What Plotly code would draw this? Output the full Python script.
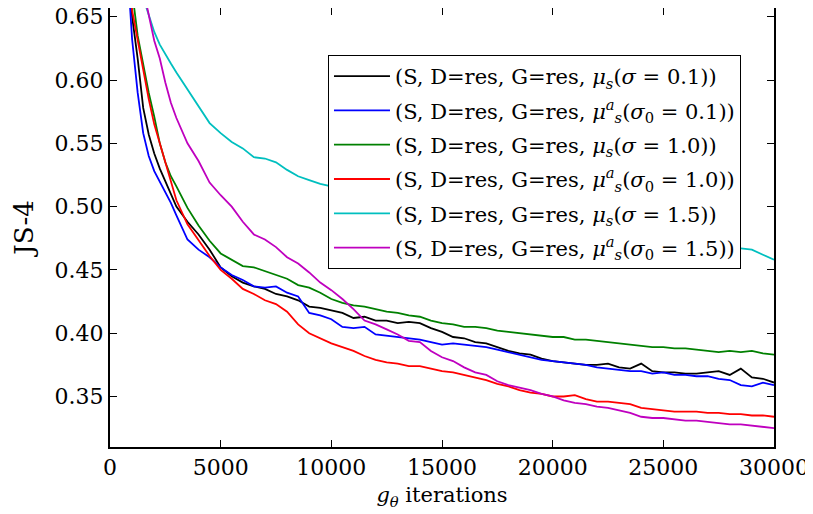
import plotly.graph_objects as go

ITERS = [500, 750, 1000, 1250, 1500, 1750, 2000, 2250, 2500, 2750, 3000] + list(range(3500, 30001, 500))

black = [0.80, 0.72, 0.65, 0.617, 0.578, 0.557, 0.542, 0.530, 0.520, 0.509, 0.500,
         0.488, 0.478, 0.466, 0.452, 0.445, 0.440, 0.437, 0.435, 0.431, 0.429,
         0.426, 0.421, 0.420, 0.418, 0.416, 0.412, 0.413, 0.410, 0.410, 0.408,
         0.409, 0.408, 0.404, 0.401, 0.397, 0.396, 0.393, 0.392, 0.389, 0.386,
         0.384, 0.383, 0.380, 0.378, 0.377, 0.376, 0.375, 0.375, 0.376, 0.373,
         0.372, 0.376, 0.370, 0.369, 0.369, 0.368, 0.368, 0.369, 0.370, 0.367,
         0.372, 0.365, 0.364, 0.361]
blue = [0.78, 0.70, 0.632, 0.590, 0.558, 0.540, 0.528, 0.520, 0.512, 0.503, 0.493,
        0.474, 0.466, 0.460, 0.452, 0.446, 0.442, 0.437, 0.436, 0.437, 0.432,
        0.429, 0.416, 0.414, 0.411, 0.405, 0.404, 0.405, 0.399, 0.398, 0.397,
        0.396, 0.395, 0.393, 0.391, 0.392, 0.391, 0.390, 0.389, 0.387, 0.385,
        0.383, 0.381, 0.379, 0.378, 0.377, 0.376, 0.375, 0.373, 0.372, 0.371,
        0.370, 0.370, 0.368, 0.369, 0.367, 0.367, 0.366, 0.366, 0.364, 0.363,
        0.359, 0.358, 0.361, 0.359]
green = [0.82, 0.74, 0.67, 0.635, 0.611, 0.590, 0.571, 0.550, 0.535, 0.524, 0.516,
         0.499, 0.485, 0.473, 0.463, 0.458, 0.453, 0.452, 0.449, 0.446, 0.443,
         0.438, 0.436, 0.432, 0.427, 0.424, 0.422, 0.421, 0.419, 0.417, 0.416,
         0.414, 0.413, 0.410, 0.408, 0.407, 0.405, 0.405, 0.404, 0.402, 0.401,
         0.400, 0.399, 0.398, 0.397, 0.397, 0.395, 0.395, 0.394, 0.393, 0.392,
         0.391, 0.390, 0.389, 0.389, 0.388, 0.388, 0.387, 0.386, 0.385, 0.386,
         0.385, 0.386, 0.384, 0.383]
red = [0.80, 0.72, 0.655, 0.632, 0.606, 0.585, 0.565, 0.550, 0.535, 0.520, 0.505,
       0.486, 0.473, 0.461, 0.450, 0.443, 0.435, 0.431, 0.426, 0.423, 0.417,
       0.407, 0.400, 0.396, 0.392, 0.389, 0.386, 0.382, 0.379, 0.377, 0.376,
       0.374, 0.374, 0.372, 0.370, 0.369, 0.367, 0.365, 0.363, 0.360, 0.358,
       0.355, 0.353, 0.352, 0.350, 0.350, 0.351, 0.348, 0.346, 0.346, 0.345,
       0.344, 0.341, 0.340, 0.339, 0.338, 0.338, 0.338, 0.337, 0.337, 0.336,
       0.336, 0.335, 0.335, 0.334]
cyan = [0.95, 0.86, 0.78, 0.71, 0.665, 0.652, 0.638, 0.628, 0.620, 0.613, 0.606,
        0.593, 0.580, 0.566, 0.558, 0.551, 0.546, 0.539, 0.538, 0.535, 0.529,
        0.524, 0.521, 0.518, 0.516, 0.513, 0.510, 0.508, 0.505, 0.503, 0.501,
        0.499, 0.497, 0.495, 0.493, 0.491, 0.489, 0.488, 0.486, 0.485, 0.483,
        0.482, 0.481, 0.480, 0.479, 0.478, 0.477, 0.476, 0.475, 0.474, 0.473,
        0.473, 0.472, 0.471, 0.471, 0.470, 0.470, 0.469, 0.469, 0.468, 0.468,
        0.467, 0.466, 0.462, 0.458]
magenta = [0.95, 0.86, 0.78, 0.71, 0.672, 0.650, 0.631, 0.617, 0.598, 0.582, 0.570,
           0.550, 0.536, 0.519, 0.509, 0.500, 0.488, 0.478, 0.474, 0.468, 0.460,
           0.455, 0.448, 0.440, 0.434, 0.427, 0.419, 0.410, 0.407, 0.403, 0.399,
           0.394, 0.393, 0.386, 0.381, 0.378, 0.373, 0.369, 0.367, 0.362, 0.359,
           0.357, 0.355, 0.352, 0.350, 0.347, 0.345, 0.344, 0.342, 0.341, 0.339,
           0.337, 0.334, 0.333, 0.333, 0.332, 0.331, 0.331, 0.330, 0.329, 0.328,
           0.328, 0.327, 0.326, 0.325]

SERIES = [
    ("(S, D=res, G=res, <i>μ<sub>s</sub></i>(<i>σ</i> = 0.1))", black, "#000000"),
    ("(S, D=res, G=res, <i>μ<sup>a</sup><sub>s</sub></i>(<i>σ</i><sub>0</sub> = 0.1))", blue, "#0000ff"),
    ("(S, D=res, G=res, <i>μ<sub>s</sub></i>(<i>σ</i> = 1.0))", green, "#008000"),
    ("(S, D=res, G=res, <i>μ<sup>a</sup><sub>s</sub></i>(<i>σ</i><sub>0</sub> = 1.0))", red, "#ff0000"),
    ("(S, D=res, G=res, <i>μ<sub>s</sub></i>(<i>σ</i> = 1.5))", cyan, "#00bfbf"),
    ("(S, D=res, G=res, <i>μ<sup>a</sup><sub>s</sub></i>(<i>σ</i><sub>0</sub> = 1.5))", magenta, "#bf00bf"),
]

Y_TICKS = [0.35, 0.40, 0.45, 0.50, 0.55, 0.60, 0.65]
X_TICKS = [0, 5000, 10000, 15000, 20000, 25000, 30000]

fig = go.Figure()
for i, (name, vals, col) in enumerate(SERIES):
    assert len(vals) == len(ITERS)
    fig.add_trace(go.Scatter(x=ITERS, y=vals, mode="lines", name=name,
                             legendgroup=f"g{i}",
                             line=dict(color=col, width=1.8)))

font = "DejaVu Serif"
fig.update_layout(
    width=805, height=506,
    margin=dict(l=102, r=39, t=0, b=67, autoexpand=False),
    paper_bgcolor="white", plot_bgcolor="white",
    font=dict(family=font, color="black", size=22),
    showlegend=True,
    legend=dict(x=0.3283, y=0.893, xanchor="left", yanchor="top",
                bgcolor="white", bordercolor="black", borderwidth=1,
                font=dict(family=font, size=21, color="black"),
                tracegroupgap=4, itemwidth=56),
    xaxis=dict(range=[0, 30000], tickvals=X_TICKS,
               ticktext=[str(v) for v in X_TICKS],
               ticks="inside", ticklen=7, tickwidth=1, tickcolor="black",
               showline=True, linecolor="black", linewidth=2, mirror="ticks",
               showgrid=False, zeroline=False, automargin=False,
               ticklabeloverflow="allow",
               tickfont=dict(family=font, size=22),
               title=dict(text="<i>g<sub>θ</sub></i> iterations",
                          font=dict(family=font, size=21), standoff=8)),
    yaxis=dict(range=[0.3101, 0.6569], tickvals=Y_TICKS,
               ticktext=[f"{v:.2f}" for v in Y_TICKS],
               ticks="inside", ticklen=7, tickwidth=1, tickcolor="black",
               showline=True, linecolor="black", linewidth=2, mirror="ticks",
               showgrid=False, zeroline=False, automargin=False,
               ticklabeloverflow="allow",
               tickfont=dict(family=font, size=22),
               title=dict(text="JS-4", font=dict(family=font, size=26), standoff=14)),
)

fig.write_html("out.html")
